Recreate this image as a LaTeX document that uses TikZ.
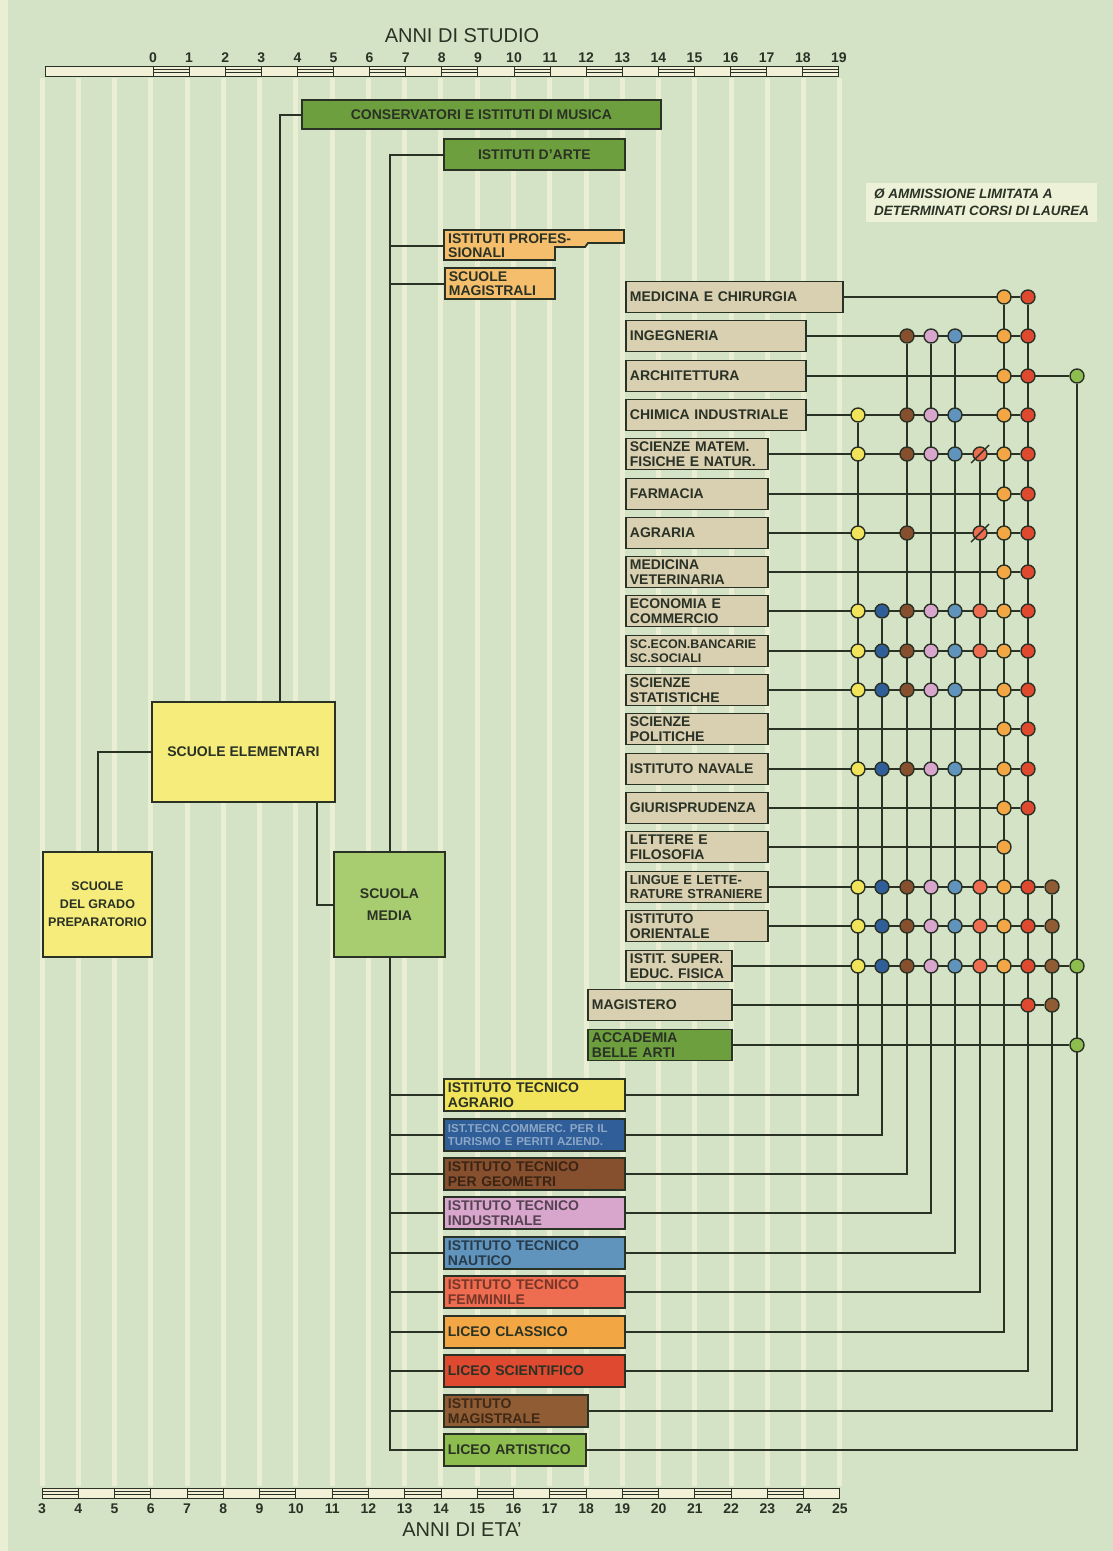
\documentclass[tikz,border=0pt]{standalone}
\usepackage{fontspec}
\setmainfont{Liberation Sans}
\pgfdeclarelayer{back}
\pgfdeclarelayer{wires}
\pgfsetlayers{back,wires,main}
\definecolor{bgc}{HTML}{D4E3C5}
\definecolor{strc}{HTML}{EAEED2}
\definecolor{linec}{HTML}{2A3125}
\definecolor{rulc}{HTML}{F2F0D6}
\definecolor{cTan}{HTML}{D8D0B1}
\definecolor{cArt}{HTML}{6E9F3E}
\definecolor{cPro}{HTML}{F4BE6C}
\definecolor{cElm}{HTML}{F6EC7C}
\definecolor{cMed}{HTML}{A8CD70}
\definecolor{cYel}{HTML}{F2E45A}
\definecolor{cBlu}{HTML}{2F5E98}
\definecolor{cBrn}{HTML}{86502F}
\definecolor{cPnk}{HTML}{D8A6CC}
\definecolor{cLbu}{HTML}{6194BD}
\definecolor{cCor}{HTML}{EE6C50}
\definecolor{cOra}{HTML}{F2A744}
\definecolor{cRed}{HTML}{DF4930}
\definecolor{cDbr}{HTML}{8F5C34}
\definecolor{cGrn}{HTML}{8CBD4E}
\definecolor{cNote}{HTML}{EDF1D7}

\begin{document}
\begin{tikzpicture}[x=1pt,y=1pt]
\tikzstyle{every node}+=[inner sep=0pt]
\tikzstyle{lbl}=[font=\bfseries\fontsize{14}{14.5}\selectfont, text=linec]
\tikzstyle{box}=[lbl, draw=linec, line width=1.8pt, inner xsep=4pt, inner ysep=1pt, anchor=west, align=left]
\tikzstyle{fac}=[box, fill=cTan, minimum height=31pt]
\tikzstyle{sec}=[box, minimum height=32pt]
\tikzstyle{big}=[lbl, draw=linec, line width=1.8pt, align=center]
\tikzstyle{dot}=[circle, draw=linec, line width=1.4pt, minimum size=14pt]
\tikzstyle{wire}=[draw=linec, line width=2pt]
\tikzstyle{rul}=[draw=linec, line width=0.9pt, fill=rulc]
\tikzstyle{num}=[font=\bfseries\fontsize{14}{14}\selectfont, text=linec]
\tikzstyle{head}=[font=\fontsize{20}{22}\selectfont, text=linec]
\useasboundingbox (0,0) rectangle (1113,-1551);

% background with year stripes
\begin{pgfonlayer}{back}
\fill[bgc] (0,0) rectangle (1113,-1551);
\fill[strc] (0,0) rectangle (8,-1551);
\foreach \k in {0,...,22}
  \fill[strc] ({39.5+36.27*\k},-78) rectangle ({44.5+36.27*\k},-1486);
\end{pgfonlayer}

% rulers
\node[head] (studio) at (462,-36) {ANNI DI STUDIO};
\draw[rul] (45,-66) rectangle (153,-76);
\foreach \s in {0,...,18}
  \draw[rul] ({153+36.1*\s},-66) rectangle ({153+36.1*(\s+1)},-76);
\foreach \s in {0,2,...,18} {
  \draw[linec, line width=0.8pt] ({153+36.1*\s},-69.5) -- ({153+36.1*(\s+1)},-69.5);
  \draw[linec, line width=0.8pt] ({153+36.1*\s},-72.5) -- ({153+36.1*(\s+1)},-72.5);
}
\foreach \s in {0,...,19}
  \node[num] (t\s) at ({153+36.1*\s},-58) {\s};
\foreach \a in {0,...,21}
  \draw[rul] ({42+36.27*\a},-1488) rectangle ({42+36.27*(\a+1)},-1498);
\foreach \a in {0,2,...,20} {
  \draw[linec, line width=0.8pt] ({42+36.27*\a},-1491.5) -- ({42+36.27*(\a+1)},-1491.5);
  \draw[linec, line width=0.8pt] ({42+36.27*\a},-1494.5) -- ({42+36.27*(\a+1)},-1494.5);
}
\foreach \a in {3,...,25}
  \node[num] (b\a) at ({42+36.27*(\a-3)},-1509) {\a};
\node[head] (eta) at (462,-1530) {ANNI DI ETA'};

% note
\node[lbl, font=\bfseries\itshape\fontsize{13.5}{17}\selectfont, fill=cNote, align=left, inner xsep=8pt, inner ysep=6pt, anchor=north west] (nota) at (866,-183) {Ø AMMISSIONE LIMITATA A\\DETERMINATI CORSI DI LAUREA};

% lower schools
\node[big, fill=cElm, minimum width=183pt, minimum height=100pt] (elem) at (243.5,-752) {SCUOLE ELEMENTARI};
\node[big, fill=cElm, minimum width=109pt, minimum height=105pt, font=\bfseries\fontsize{12.5}{18}\selectfont] (prep) at (97.5,-904.5) {SCUOLE\\DEL GRADO\\PREPARATORIO};
\node[big, fill=cMed, minimum width=111pt, minimum height=105pt, font=\bfseries\fontsize{14}{22}\selectfont] (media) at (389.5,-904.5) {SCUOLA\\MEDIA};

% upper branches
\node[big, fill=cArt, anchor=west, minimum width=359pt, minimum height=29pt] (cons) at (301,-114.5) {CONSERVATORI E ISTITUTI DI MUSICA};
\node[big, fill=cArt, anchor=west, minimum width=181pt, minimum height=31pt] (arte) at (443,-154.5) {ISTITUTI D'ARTE};
\draw[line width=1.8pt, draw=linec, fill=cPro] (444,-230) -- (624,-230) -- (624,-243) -- (588,-243) -- (585,-247) -- (555,-247) -- (555,-260) -- (444,-260) -- cycle;
\node[lbl, anchor=west, align=left, inner xsep=4pt] (prof) at (444,-245.5) {ISTITUTI PROFES-\\SIONALI};
\node[box, fill=cPro, text width=102pt, minimum height=31pt] (mag) at (444,-283.5) {SCUOLE\\MAGISTRALI};

% secondary schools
\node[sec, fill=cYel, text width=173pt] (s1) at (443,-1095) {ISTITUTO TECNICO\\AGRARIO};
\node[sec, fill=cBlu, text width=173pt, text=cBlu!55!white, font=\bfseries\fontsize{11.5}{13}\selectfont] (s2) at (443,-1135) {IST.TECN.COMMERC. PER IL\\TURISMO E PERITI AZIEND.};
\node[sec, fill=cBrn, text width=173pt, text=cBrn!45!black] (s3) at (443,-1174) {ISTITUTO TECNICO\\PER GEOMETRI};
\node[sec, fill=cPnk, text width=173pt, text=cPnk!40!black] (s4) at (443,-1213) {ISTITUTO TECNICO\\INDUSTRIALE};
\node[sec, fill=cLbu, text width=173pt, text=cLbu!40!black] (s5) at (443,-1253) {ISTITUTO TECNICO\\NAUTICO};
\node[sec, fill=cCor, text width=173pt, text=cCor!50!black] (s6) at (443,-1292) {ISTITUTO TECNICO\\FEMMINILE};
\node[sec, fill=cOra, text width=173pt] (s7) at (443,-1332) {LICEO CLASSICO};
\node[sec, fill=cRed, text width=173pt] (s8) at (443,-1371) {LICEO SCIENTIFICO};
\node[sec, fill=cDbr, text width=136pt, text=cDbr!45!black] (s9) at (443,-1411) {ISTITUTO\\MAGISTRALE};
\node[sec, fill=cGrn, text width=134pt] (s10) at (443,-1450) {LICEO ARTISTICO};

% faculties
\node[fac, text width=209pt] (f1) at (625,-297) {MEDICINA E CHIRURGIA};
\node[fac, text width=172pt] (f2) at (625,-336) {INGEGNERIA};
\node[fac, text width=172pt] (f3) at (625,-376) {ARCHITETTURA};
\node[fac, text width=172pt] (f4) at (625,-415) {CHIMICA INDUSTRIALE};
\node[fac, text width=134pt] (f5) at (625,-454) {SCIENZE MATEM.\\FISICHE E NATUR.};
\node[fac, text width=134pt] (f6) at (625,-494) {FARMACIA};
\node[fac, text width=134pt] (f7) at (625,-533) {AGRARIA};
\node[fac, text width=134pt] (f8) at (625,-572) {MEDICINA\\VETERINARIA};
\node[fac, text width=134pt] (f9) at (625,-611) {ECONOMIA E\\COMMERCIO};
\node[fac, text width=134pt, font=\bfseries\fontsize{12.5}{14.5}\selectfont] (f10) at (625,-651) {SC.ECON.BANCARIE\\SC.SOCIALI};
\node[fac, text width=134pt] (f11) at (625,-690) {SCIENZE\\STATISTICHE};
\node[fac, text width=134pt] (f12) at (625,-729) {SCIENZE\\POLITICHE};
\node[fac, text width=134pt] (f13) at (625,-769) {ISTITUTO NAVALE};
\node[fac, text width=134pt] (f14) at (625,-808) {GIURISPRUDENZA};
\node[fac, text width=134pt] (f15) at (625,-847) {LETTERE E\\FILOSOFIA};
\node[fac, text width=134pt, font=\bfseries\fontsize{13}{14.5}\selectfont] (f16) at (625,-887) {LINGUE E LETTE-\\RATURE STRANIERE};
\node[fac, text width=134pt] (f17) at (625,-926) {ISTITUTO\\ORIENTALE};
\node[fac, text width=98pt] (f18) at (625,-966) {ISTIT. SUPER.\\EDUC. FISICA};
\node[fac, text width=136pt] (f19) at (587,-1005) {MAGISTERO};
\node[fac, fill=cArt, text width=136pt] (f20) at (587,-1045) {ACCADEMIA\\BELLE ARTI};

% columns, one per secondary school
\coordinate (xYel) at (858,0);
\coordinate (xBlu) at (882,0);
\coordinate (xBrn) at (907,0);
\coordinate (xPnk) at (931,0);
\coordinate (xLbu) at (955,0);
\coordinate (xCor) at (980,0);
\coordinate (xOra) at (1004,0);
\coordinate (xRed) at (1028,0);
\coordinate (xDbr) at (1052,0);
\coordinate (xGrn) at (1077,0);

% admission dots
\foreach \k in {Ora,Red} \node[dot, fill=c\k] (d1\k) at (x\k |- f1) {};
\foreach \k in {Brn,Pnk,Lbu,Ora,Red} \node[dot, fill=c\k] (d2\k) at (x\k |- f2) {};
\foreach \k in {Ora,Red,Grn} \node[dot, fill=c\k] (d3\k) at (x\k |- f3) {};
\foreach \k in {Yel,Brn,Pnk,Lbu,Ora,Red} \node[dot, fill=c\k] (d4\k) at (x\k |- f4) {};
\foreach \k in {Yel,Brn,Pnk,Lbu,Cor,Ora,Red} \node[dot, fill=c\k] (d5\k) at (x\k |- f5) {};
\foreach \k in {Ora,Red} \node[dot, fill=c\k] (d6\k) at (x\k |- f6) {};
\foreach \k in {Yel,Brn,Cor,Ora,Red} \node[dot, fill=c\k] (d7\k) at (x\k |- f7) {};
\foreach \k in {Ora,Red} \node[dot, fill=c\k] (d8\k) at (x\k |- f8) {};
\foreach \k in {Yel,Blu,Brn,Pnk,Lbu,Cor,Ora,Red} \node[dot, fill=c\k] (d9\k) at (x\k |- f9) {};
\foreach \k in {Yel,Blu,Brn,Pnk,Lbu,Cor,Ora,Red} \node[dot, fill=c\k] (d10\k) at (x\k |- f10) {};
\foreach \k in {Yel,Blu,Brn,Pnk,Lbu,Ora,Red} \node[dot, fill=c\k] (d11\k) at (x\k |- f11) {};
\foreach \k in {Ora,Red} \node[dot, fill=c\k] (d12\k) at (x\k |- f12) {};
\foreach \k in {Yel,Blu,Brn,Pnk,Lbu,Ora,Red} \node[dot, fill=c\k] (d13\k) at (x\k |- f13) {};
\foreach \k in {Ora,Red} \node[dot, fill=c\k] (d14\k) at (x\k |- f14) {};
\foreach \k in {Ora} \node[dot, fill=c\k] (d15\k) at (x\k |- f15) {};
\foreach \k in {Yel,Blu,Brn,Pnk,Lbu,Cor,Ora,Red,Dbr} \node[dot, fill=c\k] (d16\k) at (x\k |- f16) {};
\foreach \k in {Yel,Blu,Brn,Pnk,Lbu,Cor,Ora,Red,Dbr} \node[dot, fill=c\k] (d17\k) at (x\k |- f17) {};
\foreach \k in {Yel,Blu,Brn,Pnk,Lbu,Cor,Ora,Red,Dbr,Grn} \node[dot, fill=c\k] (d18\k) at (x\k |- f18) {};
\foreach \k in {Red,Dbr} \node[dot, fill=c\k] (d19\k) at (x\k |- f19) {};
\foreach \k in {Grn} \node[dot, fill=c\k] (d20\k) at (x\k |- f20) {};
% limited admission
\draw[linec, line width=1.4pt] (d5Cor) ++(-9,-9) -- ++(18,18);
\draw[linec, line width=1.4pt] (d7Cor) ++(-9,-9) -- ++(18,18);

% connectors
\begin{pgfonlayer}{wires}
\draw[wire] (cons.west) -| (elem.north -| 280,0);
\draw[wire] (elem.west) -| (prep.north);
\draw[wire] (elem.south -| 317,0) |- (media.west);
\draw[wire] (arte.west) -| (media.north);
\draw[wire] (prof.west) -- (prof.west -| media.north);
\draw[wire] (mag.west) -- (mag.west -| media.north);
\draw[wire] (media.south) |- (s10.west);
\foreach \r in {1,...,9} \draw[wire] (s\r.west) -- (s\r.west -| media.south);
\foreach \r/\k in {1/Red,2/Red,3/Grn,4/Red,5/Red,6/Red,7/Red,8/Red,9/Red,10/Red,11/Red,12/Red,13/Red,14/Red,15/Ora,16/Dbr,17/Dbr,18/Grn,19/Dbr,20/Grn}
  \draw[wire] (f\r.east) -- (d\r\k);
\draw[wire] (s1.east) -| (d4Yel);
\draw[wire] (s2.east) -| (d9Blu);
\draw[wire] (s3.east) -| (d2Brn);
\draw[wire] (s4.east) -| (d2Pnk);
\draw[wire] (s5.east) -| (d2Lbu);
\draw[wire] (s6.east) -| (d5Cor);
\draw[wire] (s7.east) -| (d1Ora);
\draw[wire] (s8.east) -| (d1Red);
\draw[wire] (s9.east) -| (d16Dbr);
\draw[wire] (s10.east) -| (d3Grn);
\end{pgfonlayer}
\end{tikzpicture}
\end{document}
